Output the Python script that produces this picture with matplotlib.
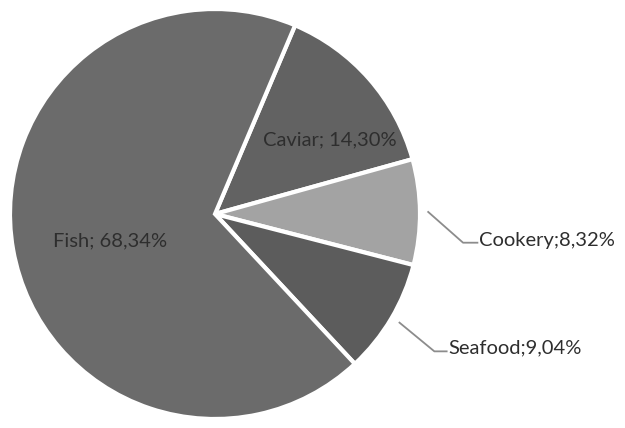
import matplotlib
matplotlib.use("Agg")
import matplotlib.pyplot as plt
import numpy as np

categories = ["Caviar", "Cookery", "Seafood", "Fish"]
values = [14.30, 8.32, 9.04, 68.34]
colors = ["#626262", "#a3a3a3", "#5c5c5c", "#6b6b6b"]

plt.rcParams['font.family'] = ['Lato', 'DejaVu Sans']

fig = plt.figure(figsize=(6.25, 4.28), dpi=100)
W, H = 625, 428
cx, cy, r = 215, 214, 205
ax = fig.add_axes([(cx - r) / W, (cy - r) / H, 2 * r / W, 2 * r / H])

wedges, _ = ax.pie(values, colors=colors, startangle=67, counterclock=False,
                   radius=1.0, center=(0, 0),
                   wedgeprops=dict(edgecolor='white', linewidth=3))
ax.set_xlim(-1, 1)
ax.set_ylim(-1, 1)
ax.set_aspect('auto')
ax.axis('off')

def lab(i, sep="; "):
    return f"{categories[i]}{sep}{values[i]:.2f}".replace('.', ',') + "%"

txtcolor = "#2e2e2e"
fs = 14.5
# inside labels
ax.text(-0.51, -0.13, lab(3), ha='center', va='center', fontsize=fs, color=txtcolor)
ax.text(0.56, 0.36, lab(0), ha='center', va='center', fontsize=fs, color=txtcolor)

# outside labels with leader lines
lc = "#8c8c8c"
ax.plot([1.04, 1.21, 1.28], [0.01, -0.14, -0.14], color=lc, lw=1.3, clip_on=False)
ax.text(1.29, -0.13, lab(1, ";"), ha='left', va='center', fontsize=fs, color=txtcolor)
ax.plot([0.90, 1.07, 1.13], [-0.53, -0.67, -0.67], color=lc, lw=1.3, clip_on=False)
ax.text(1.14, -0.655, lab(2, ";"), ha='left', va='center', fontsize=fs, color=txtcolor)

fig.savefig("out.png", dpi=100)
